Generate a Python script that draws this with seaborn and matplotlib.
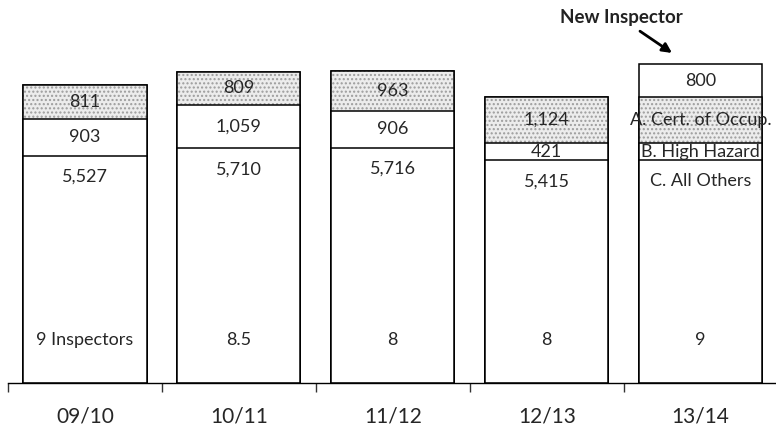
import matplotlib

matplotlib.use("Agg")
import matplotlib.pyplot as plt
import numpy as np
import seaborn as sns

# fiscal years and the inspection counts per category
YEARS = ["09/10", "10/11", "11/12", "12/13", "13/14"]
ALL_OTHERS = [5527, 5710, 5716, 5415, 5415]
HIGH_HAZARD = [903, 1059, 906, 421, 421]
CERT_OCCUP = [811, 809, 963, 1124, 1124]
NEW_INSPECTOR = [0, 0, 0, 0, 800]
INSPECTORS = ["9 Inspectors", "8.5", "8", "8", "9"]
PROJ_LABELS = ["A. Cert. of Occup.", "B. High Hazard", "C. All Others"]

PX_PER_UNIT = 0.0411
FONT = ["Lato", "DejaVu Sans"]

sns.set_theme(style="white")
plt.rcParams["font.family"] = FONT
plt.rcParams["hatch.linewidth"] = 1.0

c = np.array(ALL_OTHERS)
cb = c + np.array(HIGH_HAZARD)
cba = cb + np.array(CERT_OCCUP)
total = cba + np.array(NEW_INSPECTOR)

fig = plt.figure(figsize=(7.76, 4.28), dpi=100)
ax = fig.add_axes([8 / 776, 45 / 428, 769.6 / 776, 383 / 428])

edge = dict(edgecolor="black", linewidth=1.1, width=0.8)
sns.barplot(x=YEARS, y=total, color="white", saturation=1, ax=ax, **edge)
# stippled top segment (hatch takes the edge colour, so outline again after)
sns.barplot(x=YEARS, y=cba, color="#ececec", saturation=1, hatch="....",
            edgecolor="#9c9c9c", linewidth=0, width=0.8, ax=ax)
sns.barplot(x=YEARS, y=cba, fill=False, color="black", linewidth=1.1,
            width=0.8, ax=ax)
sns.barplot(x=YEARS, y=cb, color="white", saturation=1, ax=ax, **edge)
sns.barplot(x=YEARS, y=c, color="white", saturation=1, ax=ax, **edge)

fs = 13
off_c = 21 / PX_PER_UNIT
for i in range(len(YEARS)):
    if i < len(YEARS) - 1:
        txt = [f"{CERT_OCCUP[i]:,}", f"{HIGH_HAZARD[i]:,}", f"{ALL_OTHERS[i]:,}"]
    else:
        txt = PROJ_LABELS
    ax.text(i, cb[i] + CERT_OCCUP[i] / 2, txt[0], ha="center", va="center", fontsize=fs)
    ax.text(i, c[i] + HIGH_HAZARD[i] / 2, txt[1], ha="center", va="center", fontsize=fs)
    ax.text(i, c[i] - off_c, txt[2], ha="center", va="center", fontsize=fs)
    if NEW_INSPECTOR[i]:
        ax.text(i, cba[i] + NEW_INSPECTOR[i] / 2, f"{NEW_INSPECTOR[i]:,}",
                ha="center", va="center", fontsize=fs)
    ax.text(i, 43 / PX_PER_UNIT, INSPECTORS[i], ha="center", va="center", fontsize=fs)

last = len(YEARS) - 1
ax.text(last - 0.514, total[last] + 1140, "New Inspector", ha="center", va="center",
        fontsize=13.5, fontweight="bold", color="#222222")
ax.annotate("", xy=(last - 0.186, total[last] + 270),
            xytext=(last - 0.394, total[last] + 800),
            arrowprops=dict(arrowstyle="-|>", color="black", lw=2,
                            mutation_scale=14, shrinkA=0, shrinkB=0))

ax.set_xlim(-0.5, 4.5)
ax.set_ylim(0, 383 / PX_PER_UNIT)
ax.set_yticks([])
ax.set_xticks(range(len(YEARS)))
ax.set_xticklabels(YEARS, fontsize=15)
ax.set_xticks(np.arange(-0.5, 4.0, 1.0), minor=True)
ax.tick_params(axis="x", which="major", length=0, pad=17)
ax.tick_params(axis="x", which="minor", length=6.5, width=1, color="#333333",
               direction="out", bottom=True)
for side in ["left", "top", "right"]:
    ax.spines[side].set_visible(False)
ax.spines["bottom"].set_color("black")
ax.spines["bottom"].set_linewidth(1)
ax.set_xlabel("")
ax.set_ylabel("")

fig.savefig("out.png", dpi=100)
